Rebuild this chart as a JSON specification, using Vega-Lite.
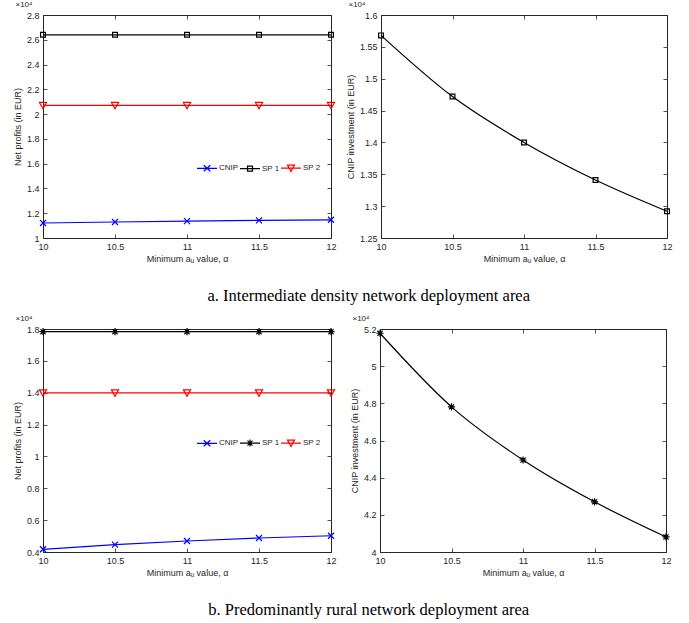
{
  "$schema": "https://vega.github.io/schema/vega-lite/v6.json",
  "background": "white",
  "padding": {"top": 0, "left": 12, "right": 5, "bottom": 5},
  "datasets": {
    "profitsA": [
      {"alpha": 10, "series": "CNIP", "profit": 11210},
      {"alpha": 10.5, "series": "CNIP", "profit": 11290},
      {"alpha": 11, "series": "CNIP", "profit": 11360},
      {"alpha": 11.5, "series": "CNIP", "profit": 11420},
      {"alpha": 12, "series": "CNIP", "profit": 11470},
      {"alpha": 10, "series": "SP 1", "profit": 26400},
      {"alpha": 10.5, "series": "SP 1", "profit": 26400},
      {"alpha": 11, "series": "SP 1", "profit": 26400},
      {"alpha": 11.5, "series": "SP 1", "profit": 26400},
      {"alpha": 12, "series": "SP 1", "profit": 26400},
      {"alpha": 10, "series": "SP 2", "profit": 20700},
      {"alpha": 10.5, "series": "SP 2", "profit": 20700},
      {"alpha": 11, "series": "SP 2", "profit": 20700},
      {"alpha": 11.5, "series": "SP 2", "profit": 20700},
      {"alpha": 12, "series": "SP 2", "profit": 20700}
    ],
    "investA": [
      {"alpha": 10, "investment": 15680},
      {"alpha": 10.5, "investment": 14720},
      {"alpha": 11, "investment": 14000},
      {"alpha": 11.5, "investment": 13410},
      {"alpha": 12, "investment": 12920}
    ],
    "profitsB": [
      {"alpha": 10, "series": "CNIP", "profit": 4170},
      {"alpha": 10.5, "series": "CNIP", "profit": 4460},
      {"alpha": 11, "series": "CNIP", "profit": 4690},
      {"alpha": 11.5, "series": "CNIP", "profit": 4880},
      {"alpha": 12, "series": "CNIP", "profit": 5020},
      {"alpha": 10, "series": "SP 1", "profit": 17830},
      {"alpha": 10.5, "series": "SP 1", "profit": 17830},
      {"alpha": 11, "series": "SP 1", "profit": 17830},
      {"alpha": 11.5, "series": "SP 1", "profit": 17830},
      {"alpha": 12, "series": "SP 1", "profit": 17830},
      {"alpha": 10, "series": "SP 2", "profit": 13990},
      {"alpha": 10.5, "series": "SP 2", "profit": 13990},
      {"alpha": 11, "series": "SP 2", "profit": 13990},
      {"alpha": 11.5, "series": "SP 2", "profit": 13990},
      {"alpha": 12, "series": "SP 2", "profit": 13990}
    ],
    "investB": [
      {"alpha": 10, "investment": 51770},
      {"alpha": 10.5, "investment": 47810},
      {"alpha": 11, "investment": 44950},
      {"alpha": 11.5, "investment": 42700},
      {"alpha": 12, "investment": 40810}
    ]
  },
  "config": {
    "font": "Liberation Sans",
    "view": {"stroke": "#262626", "strokeWidth": 1},
    "axis": {
      "grid": false,
      "domain": false,
      "tickColor": "#262626",
      "tickSize": -4,
      "tickWidth": 0.8,
      "labelPadding": 8,
      "labelFont": "Liberation Sans",
      "labelFontSize": 9,
      "labelColor": "#262626",
      "labelFlush": false,
      "labelOverlap": false,
      "titleFont": "Liberation Sans",
      "titleFontSize": 9,
      "titleFontWeight": "normal",
      "titleColor": "#262626",
      "titlePadding": 3
    },
    "legend": {
      "labelFont": "Liberation Sans",
      "labelFontSize": 8,
      "labelColor": "#262626"
    },
    "title": {"font": "Liberation Sans", "fontWeight": "normal"}
  },
  "resolve": {"scale": {"color": "independent"}, "legend": {"color": "independent"}},
  "spacing": 10,
  "vconcat": [
    {
      "title": {"text": "a. Intermediate density network deployment area", "orient": "bottom", "font": "Liberation Serif", "fontSize": 16.5, "fontWeight": "normal", "color": "black", "anchor": "middle", "offset": 24, "dx": 26},
      "spacing": 7,
      "hconcat": [
        {
          "width": 288, "height": 223,
          "title": {"text": "×10⁴", "anchor": "start", "fontSize": 8, "color": "#262626", "offset": 2, "dx": 2},
          "data": {"name": "profitsA"},
          "encoding": {
            "x": {"field": "alpha", "type": "quantitative", "scale": {"domain": [10, 12]}, "axis": {"values": [10, 10.5, 11, 11.5, 12], "format": "~g", "title": "Minimum aᵤ value, α"}},
            "y": {"field": "profit", "type": "quantitative", "scale": {"domain": [10000, 28000]}, "axis": {"values": [10000, 12000, 14000, 16000, 18000, 20000, 22000, 24000, 26000, 28000], "labelExpr": "format(datum.value/10000, '~g')", "title": "Net profits (in EUR)", "titlePadding": 4}},
            "color": {"field": "series", "type": "nominal", "scale": {"domain": ["CNIP", "SP 1", "SP 2"], "range": ["#0000ff", "#000000", "#ff0000"]},
              "legend": {"orient": "none", "legendX": 153, "legendY": 142, "direction": "horizontal", "title": null, "symbolSize": 400, "columnPadding": -4, "labelOffset": 1, "padding": 0,
                "encode": {"symbols": {"update": {"shape": {"signal": "datum.value === 'CNIP' ? 'M-1,0H1M-0.33,-0.3L0.33,0.3M-0.33,0.3L0.33,-0.3' : datum.value === 'SP 1' ? 'M-1,0H1M-0.25,-0.25H0.25V0.25H-0.25Z' : 'M-1,0H1M-0.35,-0.3H0.35L0,0.33Z'"}, "fill": {"value": "transparent"}, "strokeWidth": {"value": 1.2}}}}}}
          },
          "layer": [
            {"mark": {"type": "line", "strokeWidth": 1.2}},
            {"transform": [{"filter": "datum.series === 'CNIP'"}],
              "mark": {"type": "point", "filled": false, "size": 36, "strokeWidth": 1.2, "opacity": 1, "shape": "M-1,-1L1,1M-1,1L1,-1"},
              "encoding": {
                "x": {"field": "alpha", "type": "quantitative", "axis": {"orient": "top", "values": [10, 10.5, 11, 11.5, 12], "labels": false, "title": null}},
                "y": {"field": "profit", "type": "quantitative", "axis": {"orient": "right", "values": [10000, 12000, 14000, 16000, 18000, 20000, 22000, 24000, 26000, 28000], "labels": false, "title": null}}
              }},
            {"transform": [{"filter": "datum.series === 'SP 1'"}],
              "mark": {"type": "point", "filled": false, "size": 36, "strokeWidth": 1.2, "opacity": 1, "shape": "M-0.8,-0.8H0.8V0.8H-0.8Z"},
              "encoding": {
                "x": {"field": "alpha", "type": "quantitative", "axis": null},
                "y": {"field": "profit", "type": "quantitative", "axis": null}
              }},
            {"transform": [{"filter": "datum.series === 'SP 2'"}],
              "mark": {"type": "point", "filled": false, "size": 36, "strokeWidth": 1.2, "opacity": 1, "shape": "M-1.2,-1H1.2L0,1.1Z"},
              "encoding": {
                "x": {"field": "alpha", "type": "quantitative", "axis": null},
                "y": {"field": "profit", "type": "quantitative", "axis": null}
              }}
          ],
          "resolve": {"axis": {"x": "independent", "y": "independent"}}
        },
        {
          "width": 286, "height": 223,
          "title": {"text": "×10⁴", "anchor": "start", "fontSize": 8, "color": "#262626", "offset": 2, "dx": 2},
          "data": {"name": "investA"},
          "encoding": {
            "x": {"field": "alpha", "type": "quantitative", "scale": {"domain": [10, 12]}, "axis": {"values": [10, 10.5, 11, 11.5, 12], "format": "~g", "title": "Minimum aᵤ value, α"}},
            "y": {"field": "investment", "type": "quantitative", "scale": {"domain": [12500, 16000]}, "axis": {"values": [12500, 13000, 13500, 14000, 14500, 15000, 15500, 16000], "labelExpr": "format(datum.value/10000, '~g')", "title": "CNIP investment (in EUR)", "titlePadding": 4}}
          },
          "layer": [
            {"mark": {"type": "line", "strokeWidth": 1.2, "color": "#000000", "interpolate": "monotone"}},
            {"mark": {"type": "point", "filled": false, "size": 36, "strokeWidth": 1.2, "opacity": 1, "color": "#000000", "shape": "M-0.8,-0.8H0.8V0.8H-0.8Z"},
              "encoding": {
                "x": {"field": "alpha", "type": "quantitative", "axis": {"orient": "top", "values": [10, 10.5, 11, 11.5, 12], "labels": false, "title": null}},
                "y": {"field": "investment", "type": "quantitative", "axis": {"orient": "right", "values": [12500, 13000, 13500, 14000, 14500, 15000, 15500, 16000], "labels": false, "title": null}}
              }}
          ],
          "resolve": {"axis": {"x": "independent", "y": "independent"}}
        }
      ]
    },
    {
      "title": {"text": "b. Predominantly rural network deployment area", "orient": "bottom", "font": "Liberation Serif", "fontSize": 16.5, "fontWeight": "normal", "color": "black", "anchor": "middle", "offset": 24, "dx": 26},
      "spacing": 11,
      "hconcat": [
        {
          "width": 288, "height": 223,
          "title": {"text": "×10⁴", "anchor": "start", "fontSize": 8, "color": "#262626", "offset": 2, "dx": 2},
          "data": {"name": "profitsB"},
          "encoding": {
            "x": {"field": "alpha", "type": "quantitative", "scale": {"domain": [10, 12]}, "axis": {"values": [10, 10.5, 11, 11.5, 12], "format": "~g", "title": "Minimum aᵤ value, α"}},
            "y": {"field": "profit", "type": "quantitative", "scale": {"domain": [4000, 18000]}, "axis": {"values": [4000, 6000, 8000, 10000, 12000, 14000, 16000, 18000], "labelExpr": "format(datum.value/10000, '~g')", "title": "Net profits (in EUR)", "titlePadding": 4}},
            "color": {"field": "series", "type": "nominal", "scale": {"domain": ["CNIP", "SP 1", "SP 2"], "range": ["#0000ff", "#000000", "#ff0000"]},
              "legend": {"orient": "none", "legendX": 153, "legendY": 103, "direction": "horizontal", "title": null, "symbolSize": 400, "columnPadding": -4, "labelOffset": 1, "padding": 0,
                "encode": {"symbols": {"update": {"shape": {"signal": "datum.value === 'CNIP' ? 'M-1,0H1M-0.33,-0.3L0.33,0.3M-0.33,0.3L0.33,-0.3' : datum.value === 'SP 1' ? 'M-1,0H1M-0.25,-0.25L0.25,0.25M-0.25,0.25L0.25,-0.25M0,-0.35V0.35M-0.35,0H0.35' : 'M-1,0H1M-0.35,-0.3H0.35L0,0.33Z'"}, "fill": {"value": "transparent"}, "strokeWidth": {"value": 1.2}}}}}}
          },
          "layer": [
            {"mark": {"type": "line", "strokeWidth": 1.2}},
            {"transform": [{"filter": "datum.series === 'CNIP'"}],
              "mark": {"type": "point", "filled": false, "size": 36, "strokeWidth": 1.2, "opacity": 1, "shape": "M-1,-1L1,1M-1,1L1,-1"},
              "encoding": {
                "x": {"field": "alpha", "type": "quantitative", "axis": {"orient": "top", "values": [10, 10.5, 11, 11.5, 12], "labels": false, "title": null}},
                "y": {"field": "profit", "type": "quantitative", "axis": {"orient": "right", "values": [4000, 6000, 8000, 10000, 12000, 14000, 16000, 18000], "labels": false, "title": null}}
              }},
            {"transform": [{"filter": "datum.series === 'SP 1'"}],
              "mark": {"type": "point", "filled": false, "size": 36, "strokeWidth": 1.2, "opacity": 1, "shape": "M-0.85,-0.85L0.85,0.85M-0.85,0.85L0.85,-0.85M0,-1.2V1.2M-1.2,0H1.2"},
              "encoding": {
                "x": {"field": "alpha", "type": "quantitative", "axis": null},
                "y": {"field": "profit", "type": "quantitative", "axis": null}
              }},
            {"transform": [{"filter": "datum.series === 'SP 2'"}],
              "mark": {"type": "point", "filled": false, "size": 36, "strokeWidth": 1.2, "opacity": 1, "shape": "M-1.2,-1H1.2L0,1.1Z"},
              "encoding": {
                "x": {"field": "alpha", "type": "quantitative", "axis": null},
                "y": {"field": "profit", "type": "quantitative", "axis": null}
              }}
          ],
          "resolve": {"axis": {"x": "independent", "y": "independent"}}
        },
        {
          "width": 286, "height": 223,
          "title": {"text": "×10⁴", "anchor": "start", "fontSize": 8, "color": "#262626", "offset": 2, "dx": 2},
          "data": {"name": "investB"},
          "encoding": {
            "x": {"field": "alpha", "type": "quantitative", "scale": {"domain": [10, 12]}, "axis": {"values": [10, 10.5, 11, 11.5, 12], "format": "~g", "title": "Minimum aᵤ value, α"}},
            "y": {"field": "investment", "type": "quantitative", "scale": {"domain": [40000, 52000]}, "axis": {"values": [40000, 42000, 44000, 46000, 48000, 50000, 52000], "labelExpr": "format(datum.value/10000, '~g')", "title": "CNIP investment (in EUR)", "titlePadding": 4}}
          },
          "layer": [
            {"mark": {"type": "line", "strokeWidth": 1.2, "color": "#000000", "interpolate": "monotone"}},
            {"mark": {"type": "point", "filled": false, "size": 36, "strokeWidth": 1.2, "opacity": 1, "color": "#000000", "shape": "M-0.85,-0.85L0.85,0.85M-0.85,0.85L0.85,-0.85M0,-1.2V1.2M-1.2,0H1.2"},
              "encoding": {
                "x": {"field": "alpha", "type": "quantitative", "axis": {"orient": "top", "values": [10, 10.5, 11, 11.5, 12], "labels": false, "title": null}},
                "y": {"field": "investment", "type": "quantitative", "axis": {"orient": "right", "values": [40000, 42000, 44000, 46000, 48000, 50000, 52000], "labels": false, "title": null}}
              }}
          ],
          "resolve": {"axis": {"x": "independent", "y": "independent"}}
        }
      ]
    }
  ]
}
